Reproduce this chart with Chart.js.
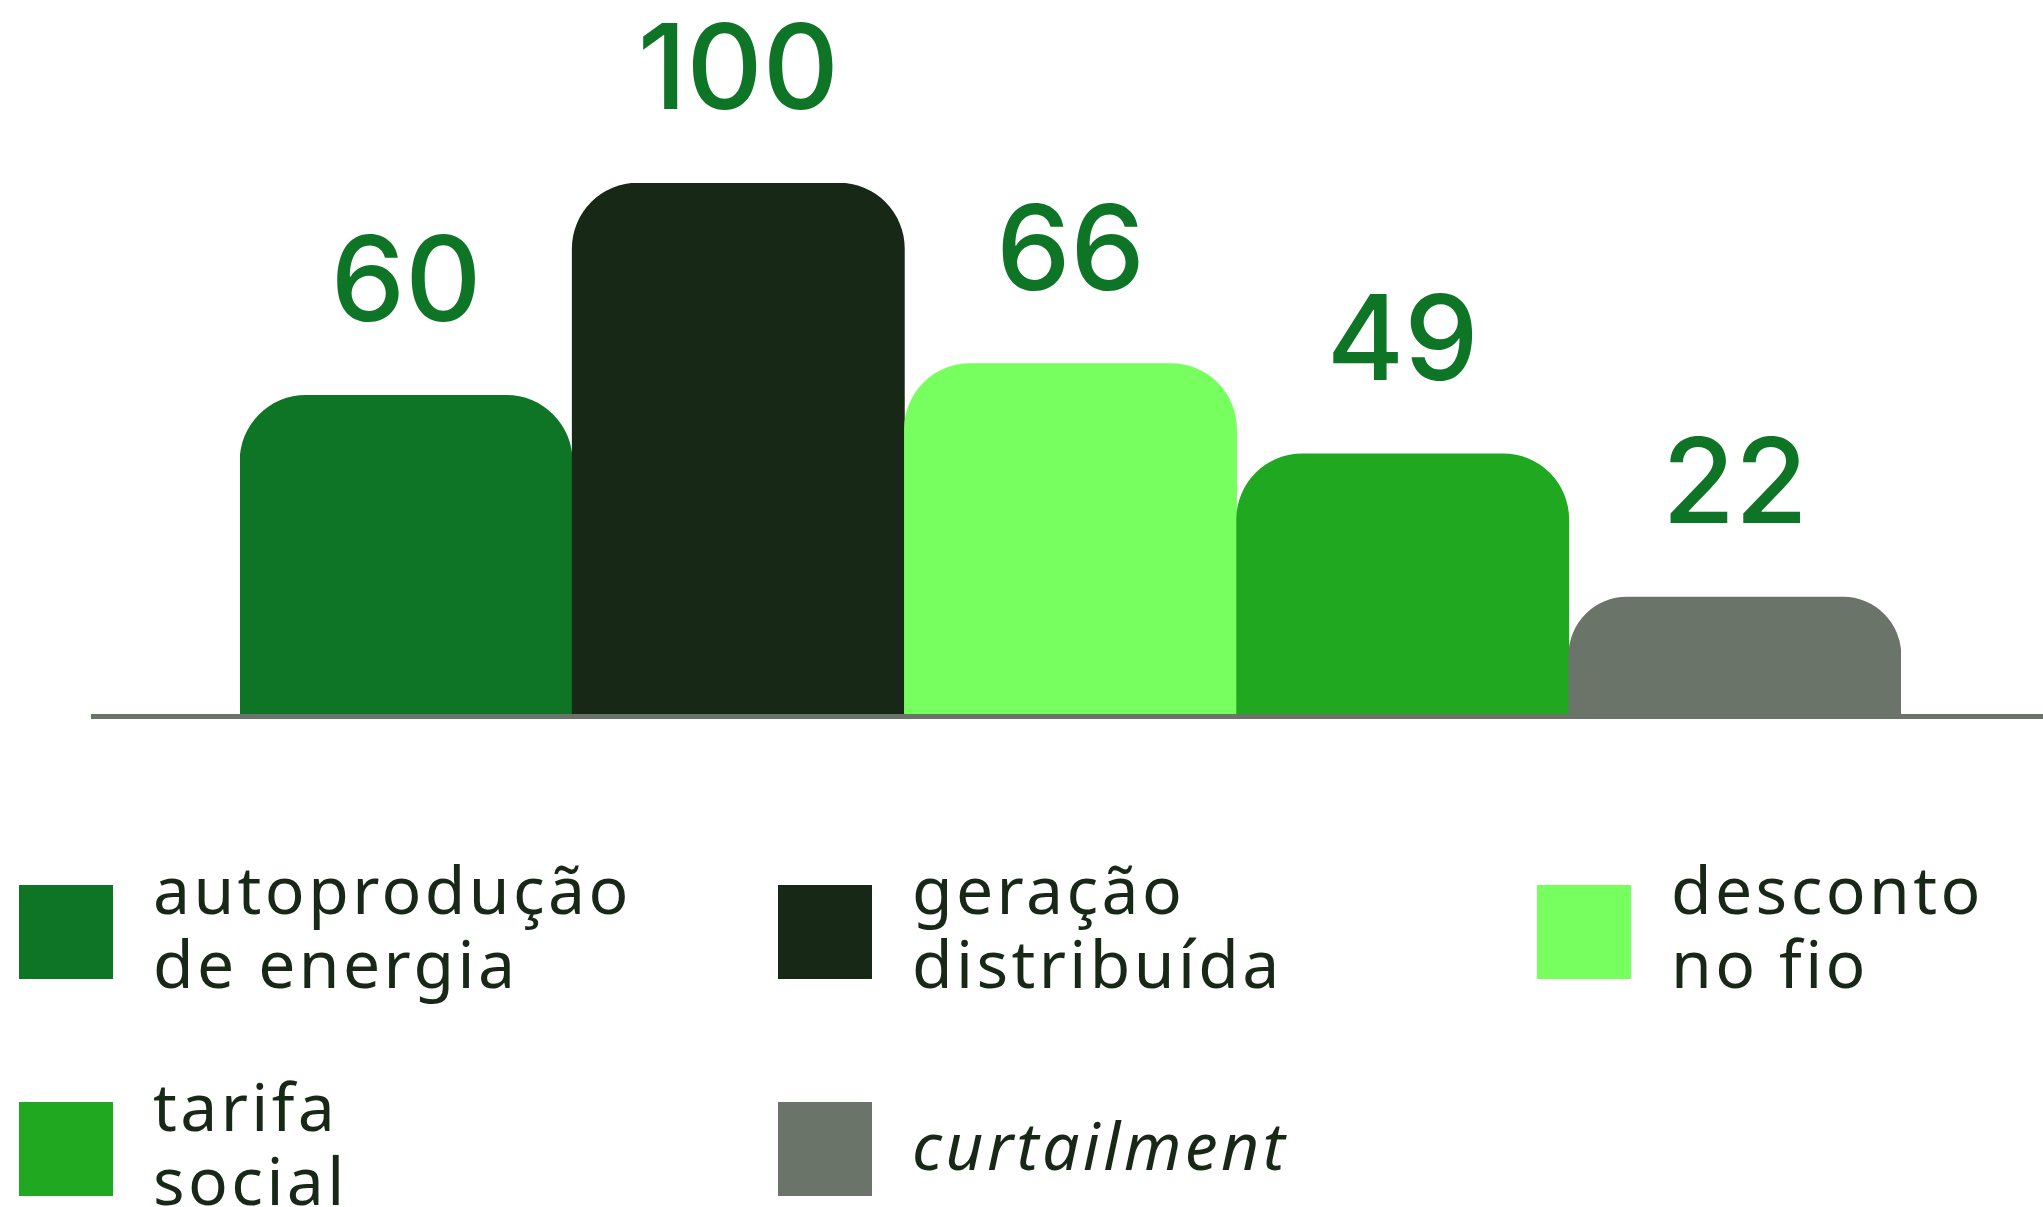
<!DOCTYPE html>
<html lang="pt">
<head>
<meta charset="utf-8">
<title>Chart</title>
<script src="https://cdn.jsdelivr.net/npm/chart.js@4.4.1/dist/chart.umd.min.js"></script>
<style>
    html, body {
        margin: 0;
        padding: 0;
        background: #ffffff;
    }
    #wrap {
        position: relative;
        width: 2043px;
        height: 1207px;
        overflow: hidden;
    }
    #barChart {
        position: absolute;
        left: 0;
        top: 0;
    }
    #legend {
        position: absolute;
        left: 19px;
        top: 885px;
        display: grid;
        grid-template-columns: 759px 759px 500px;
        grid-auto-rows: 217px;
        font-family: "Noto Sans", sans-serif;
        font-weight: 400;
        font-size: 66px;
        letter-spacing: 3.4px;
        color: #172916;
    }
    .item {
        display: flex;
        align-items: flex-start;
    }
    .swatch {
        width: 94px;
        height: 94px;
        flex: 0 0 94px;
        margin-right: 40px;
    }
    .label {
        line-height: 74px;
        margin-top: -34px;
        white-space: nowrap;
    }
    .label.single {
        margin-top: 5px;
    }
    .label.italic {
        font-style: italic;
    }
</style>
</head>
<body>
<div id="wrap">
    <canvas id="barChart" width="2043" height="760"></canvas>
    <div id="legend"></div>
</div>
<script>
// Data
const categories = [
    ['autoprodução', 'de energia'],
    ['geração', 'distribuída'],
    ['desconto', 'no fio'],
    ['tarifa', 'social'],
    ['curtailment']
];
const values = [60, 100, 66, 49, 22];
const italicLabels = ['curtailment'];

// Colours
const barColors = ['#0e7527', '#172916', '#77ff5f', '#20a820', '#6a7469'];
const valueColor = '#0e7527';
const axisColor = '#6a7469';

// Draw numbers above the bars
const valueLabels = {
    id: 'valueLabels',
    afterDatasetsDraw(chart) {
        const ctx = chart.ctx;
        const meta = chart.getDatasetMeta(0);
        ctx.save();
        ctx.fillStyle = valueColor;
        ctx.font = '550 118px Inter, sans-serif';
        ctx.textAlign = 'center';
        ctx.textBaseline = 'alphabetic';
        meta.data.forEach((bar, i) => {
            ctx.fillText(String(values[i]), bar.x, bar.y - 74);
        });
        ctx.restore();
    }
};

// Baseline that runs past the bars
const baseLine = {
    id: 'baseLine',
    afterDatasetsDraw(chart) {
        const ctx = chart.ctx;
        const y = chart.scales.y.getPixelForValue(0);
        ctx.save();
        ctx.strokeStyle = axisColor;
        ctx.lineWidth = 5;
        ctx.beginPath();
        ctx.moveTo(91, y + 2.5);
        ctx.lineTo(chart.width, y + 2.5);
        ctx.stroke();
        ctx.restore();
    }
};

new Chart(document.getElementById('barChart'), {
    type: 'bar',
    data: {
        labels: categories,
        datasets: [{
            data: values,
            backgroundColor: barColors,
            borderWidth: 0,
            borderSkipped: 'bottom',
            borderRadius: { topLeft: 66, topRight: 66, bottomLeft: 0, bottomRight: 0 },
            barPercentage: 1,
            categoryPercentage: 1
        }]
    },
    options: {
        responsive: false,
        animation: false,
        layout: {
            padding: { left: 240, right: 142, top: 183, bottom: 46 }
        },
        scales: {
            x: {
                display: false,
                offset: true
            },
            y: {
                display: false,
                min: 0,
                max: 100
            }
        },
        plugins: {
            legend: { display: false },
            tooltip: { enabled: false }
        }
    },
    plugins: [valueLabels, baseLine]
});

// HTML legend built from the same arrays
const legendEl = document.getElementById('legend');
categories.forEach((lines, i) => {
    const item = document.createElement('div');
    item.className = 'item';
    const sw = document.createElement('div');
    sw.className = 'swatch';
    sw.style.background = barColors[i];
    const lab = document.createElement('div');
    lab.className = 'label';
    if (lines.length === 1) lab.classList.add('single');
    if (lines.some(l => italicLabels.includes(l))) lab.classList.add('italic');
    lab.innerHTML = lines.join('<br>');
    item.appendChild(sw);
    item.appendChild(lab);
    legendEl.appendChild(item);
});
</script>
</body>
</html>
